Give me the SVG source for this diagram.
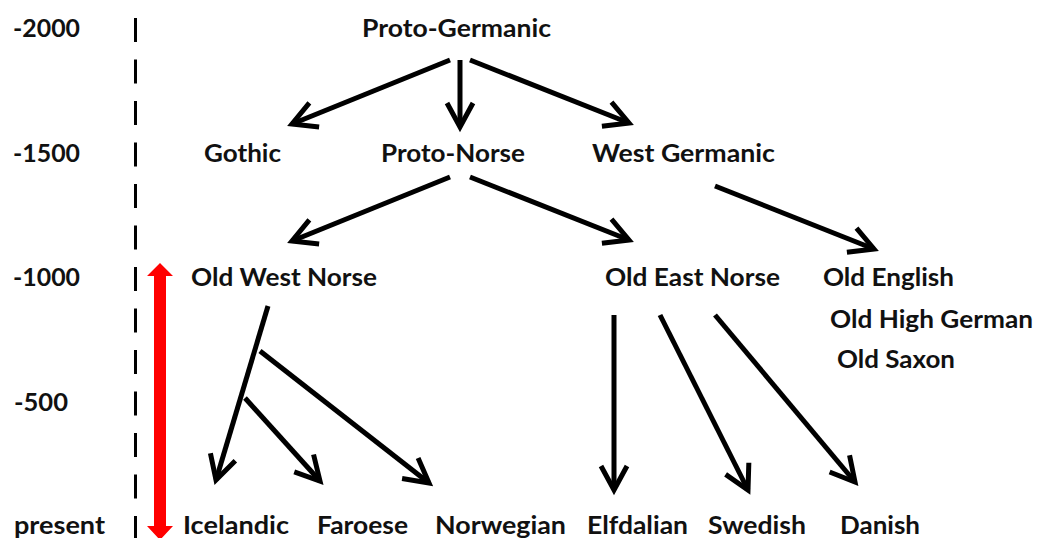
<svg xmlns="http://www.w3.org/2000/svg" width="1050" height="538" viewBox="0 0 1050 538">
<style>
text{font-family:Lato,"Open Sans","Liberation Sans",sans-serif;font-weight:bold;font-size:24px;fill:#111;}
.c line{stroke:#000;stroke-width:5;marker-end:url(#ah);}
</style>
<defs>
<marker id="ah" markerUnits="userSpaceOnUse" markerWidth="40" markerHeight="40" viewBox="-30 -20 40 40" refX="0" refY="0" orient="auto" overflow="visible">
<path d="M-24,-13 L0,0 L-24,13" fill="none" stroke="#000" stroke-width="5" stroke-linejoin="miter"/>
</marker>
</defs>
<rect width="1050" height="538" fill="#fff"/>
<g id="timeline">
<text x="13" y="37" textLength="67" lengthAdjust="spacingAndGlyphs">-2000</text>
<text x="13" y="162" textLength="67" lengthAdjust="spacingAndGlyphs">-1500</text>
<text x="13" y="286" textLength="67" lengthAdjust="spacingAndGlyphs">-1000</text>
<text x="14" y="411" textLength="54" lengthAdjust="spacingAndGlyphs">-500</text>
<text x="14" y="534" textLength="91" lengthAdjust="spacingAndGlyphs">present</text>
<line x1="135.5" y1="18" x2="135.5" y2="538" stroke="#000" stroke-width="3" stroke-dasharray="24 17.5"/>
<path d="M160,263 L173,276 L166,276 L166,526 L173,526 L160,540 L147,526 L154,526 L154,276 L147,276 Z" fill="#ff0000"/>
</g>
<g id="proto-germanic"><text x="362" y="37" textLength="189" lengthAdjust="spacingAndGlyphs">Proto-Germanic</text></g>
<g id="gothic"><text x="204" y="162" textLength="77" lengthAdjust="spacingAndGlyphs">Gothic</text></g>
<g id="proto-norse"><text x="381" y="162" textLength="144" lengthAdjust="spacingAndGlyphs">Proto-Norse</text></g>
<g id="west-germanic"><text x="592" y="162" textLength="183" lengthAdjust="spacingAndGlyphs">West Germanic</text></g>
<g id="old-west-norse"><text x="191" y="286" textLength="186" lengthAdjust="spacingAndGlyphs">Old West Norse</text></g>
<g id="old-east-norse"><text x="605" y="286" textLength="175" lengthAdjust="spacingAndGlyphs">Old East Norse</text></g>
<g id="old-english"><text x="823" y="286" textLength="131" lengthAdjust="spacingAndGlyphs">Old English</text></g>
<g id="old-high-german"><text x="830" y="328" textLength="203" lengthAdjust="spacingAndGlyphs">Old High German</text></g>
<g id="old-saxon"><text x="837" y="368" textLength="118" lengthAdjust="spacingAndGlyphs">Old Saxon</text></g>
<g id="icelandic"><text x="183" y="534" textLength="106" lengthAdjust="spacingAndGlyphs">Icelandic</text></g>
<g id="faroese"><text x="317" y="534" textLength="91" lengthAdjust="spacingAndGlyphs">Faroese</text></g>
<g id="norwegian"><text x="435" y="534" textLength="131" lengthAdjust="spacingAndGlyphs">Norwegian</text></g>
<g id="elfdalian"><text x="587" y="534" textLength="101" lengthAdjust="spacingAndGlyphs">Elfdalian</text></g>
<g id="swedish"><text x="708" y="534" textLength="98" lengthAdjust="spacingAndGlyphs">Swedish</text></g>
<g id="danish"><text x="840" y="534" textLength="80" lengthAdjust="spacingAndGlyphs">Danish</text></g>
<g id="connectors" class="c">
<line x1="450" y1="60" x2="292" y2="124"/>
<line x1="460" y1="60" x2="460" y2="127"/>
<line x1="470" y1="60" x2="629" y2="123"/>
<line x1="450" y1="177" x2="292" y2="241"/>
<line x1="470" y1="177" x2="629" y2="240"/>
<line x1="715" y1="186" x2="874" y2="249"/>
<line x1="268" y1="306" x2="216" y2="480"/>
<line x1="260" y1="351" x2="429" y2="483"/>
<line x1="245" y1="398" x2="320" y2="481"/>
<line x1="614" y1="315" x2="614" y2="490"/>
<line x1="660" y1="315" x2="748" y2="490"/>
<line x1="715" y1="315" x2="855" y2="482"/>
</g>
</svg>
